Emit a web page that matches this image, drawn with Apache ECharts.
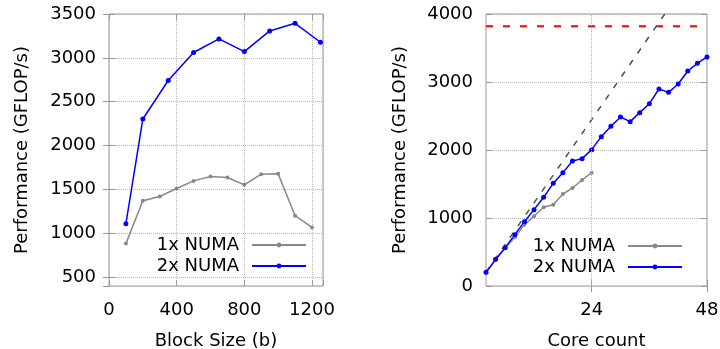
<!DOCTYPE html>
<html>
<head>
<meta charset="utf-8">
<script src="https://cdn.jsdelivr.net/npm/echarts@6/dist/echarts.min.js"></script>
<style>
html,body{margin:0;padding:0;background:#fff;}
#chart{width:720px;height:349px;}
</style>
</head>
<body>
<div id="chart"></div>
<script>
// left panel: block size sweep
var blockSizes1x = [100, 200, 300, 400, 500, 600, 700, 800, 900, 1000, 1100, 1200];
var blockPerf1x = [883, 1371, 1420, 1511, 1598, 1648, 1636, 1553, 1674, 1678, 1201, 1068];
var blockSizes2x = [100, 200, 350, 500, 650, 800, 950, 1100, 1250];
var blockPerf2x = [1110, 2303, 2742, 3061, 3216, 3072, 3307, 3394, 3178];

// right panel: core count sweep
var cores1x = [2, 4, 6, 8, 10, 12, 14, 16, 18, 20, 22, 24];
var corePerf1x = [201, 385, 559, 716, 902, 1025, 1157, 1196, 1353, 1441, 1559, 1667];
var cores2x = [2, 4, 6, 8, 10, 12, 14, 16, 18, 20, 22, 24, 26, 28, 30, 32, 34, 36, 38, 40, 42, 44, 46, 48];
var corePerf2x = [201, 392, 564, 755, 946, 1123, 1304, 1510, 1667, 1838, 1873, 2005, 2196, 2348, 2485, 2417, 2549, 2681, 2897, 2848, 2971, 3162, 3275, 3368];
var peakPerf = 3820;
var idealPerCore = 102;

var leftXTicks = [0, 400, 800, 1200];
var rightXTicks = [24, 48];
var rightXGrid = [24];

var FONT = 'DejaVu Sans';
var FS = 18;
var GRAY = '#888888';
var BLUE = '#0000ff';

function pairs(xs, ys) {
	return xs.map(function (x, i) { return [x, ys[i]]; });
}
function plain(v) { return String(v); }

var splitStyle = { show: true, lineStyle: { color: '#b4b4b4', type: 'dotted', width: 1 } };
var nameStyle = { color: '#000', fontFamily: FONT, fontSize: FS };
var tickStyle = { show: true, inside: true, length: 6, lineStyle: { color: '#999' } };

function mirror(pos, grid, min, max, extra) {
	var ax = {
		type: 'value', gridIndex: grid, position: pos, min: min, max: max,
		axisLine: { show: false }, axisLabel: { show: false },
		axisTick: tickStyle, splitLine: { show: false }
	};
	for (var k in extra) ax[k] = extra[k];
	return ax;
}

var legendText = { color: '#000', fontFamily: FONT, fontSize: FS, padding: [0, 8, 0, 0] };

var chart = echarts.init(document.getElementById('chart'));
var option = {
	animation: false,
	grid: [
		{ left: 109, right: 397, top: 14, bottom: 63, outerBoundsMode: 'none', show: true, borderColor: '#999', borderWidth: 1 },
		{ left: 486, right: 13, top: 14, bottom: 63, outerBoundsMode: 'none', show: true, borderColor: '#999', borderWidth: 1 }
	],
	legend: [
		{
			data: ['1x NUMA', '2x NUMA'], orient: 'vertical', align: 'right',
			right: 408, top: 231, itemWidth: 54, itemHeight: 6, itemGap: 3,
			textStyle: legendText
		},
		{
			data: ['1x NUMA', '2x NUMA'], orient: 'vertical', align: 'right',
			right: 32, top: 232, itemWidth: 54, itemHeight: 6, itemGap: 3,
			textStyle: legendText
		}
	],
	xAxis: [
		{
			type: 'value', gridIndex: 0, min: 0, max: 1265, interval: 400,
			name: 'Block Size (b)', nameLocation: 'middle', nameGap: 46, nameTextStyle: nameStyle,
			axisLine: { show: false }, axisTick: tickStyle,
			axisLabel: { color: '#000', fontFamily: FONT, fontSize: FS, margin: 15, customValues: leftXTicks, formatter: plain },
			splitLine: splitStyle
		},
		mirror('top', 0, 0, 1265, { interval: 400 }),
		{
			type: 'value', gridIndex: 1, min: 2, max: 48,
			name: 'Core count', nameLocation: 'middle', nameGap: 46, nameTextStyle: nameStyle,
			axisLine: { show: false },
			axisTick: { show: true, inside: true, length: 6, lineStyle: { color: '#999' }, customValues: rightXTicks },
			axisLabel: { color: '#000', fontFamily: FONT, fontSize: FS, margin: 15, customValues: rightXTicks },
			splitLine: { show: false }
		},
		mirror('top', 1, 2, 48, { axisTick: { show: true, inside: true, length: 6, lineStyle: { color: '#999' }, customValues: rightXTicks } })
	],
	yAxis: [
		{
			type: 'value', gridIndex: 0, min: 400, max: 3500, splitNumber: 6,
			name: 'Performance (GFLOP/s)', nameLocation: 'middle', nameGap: 78, nameTextStyle: nameStyle,
			axisLine: { show: false }, axisTick: tickStyle,
			axisLabel: { color: '#000', fontFamily: FONT, fontSize: FS, margin: 13, showMinLabel: false, formatter: plain },
			splitLine: splitStyle
		},
		mirror('right', 0, 400, 3500, { splitNumber: 6 }),
		{
			type: 'value', gridIndex: 1, min: 0, max: 4000, interval: 1000,
			name: 'Performance (GFLOP/s)', nameLocation: 'middle', nameGap: 77, nameTextStyle: nameStyle,
			axisLine: { show: false }, axisTick: tickStyle,
			axisLabel: { color: '#000', fontFamily: FONT, fontSize: FS, margin: 13, formatter: plain },
			splitLine: splitStyle
		},
		mirror('right', 1, 0, 4000, { interval: 1000 })
	],
	series: [
		{
			name: '1x NUMA', type: 'line', xAxisIndex: 0, yAxisIndex: 0,
			data: pairs(blockSizes1x, blockPerf1x),
			symbol: 'circle', symbolSize: 4, color: GRAY,
			lineStyle: { color: GRAY, width: 1.5 }, itemStyle: { color: GRAY }
		},
		{
			name: '2x NUMA', type: 'line', xAxisIndex: 0, yAxisIndex: 0,
			data: pairs(blockSizes2x, blockPerf2x),
			symbol: 'circle', symbolSize: 5, color: BLUE,
			lineStyle: { color: BLUE, width: 1.5 }, itemStyle: { color: BLUE }
		},
		{
			name: 'peak', type: 'line', xAxisIndex: 2, yAxisIndex: 2,
			data: [[2, peakPerf], [48, peakPerf]], symbol: 'none', silent: true,
			lineStyle: { color: '#ff0000', width: 2, type: [7, 10] },
			markLine: {
				silent: true, symbol: 'none', label: { show: false },
				lineStyle: { color: '#b4b4b4', type: 'dotted', width: 1 },
				data: rightXGrid.map(function (v) { return { xAxis: v }; })
			}
		},
		{
			name: 'ideal', type: 'line', xAxisIndex: 2, yAxisIndex: 2,
			data: [[2, 2 * idealPerCore], [48, 48 * idealPerCore]], symbol: 'none', silent: true,
			lineStyle: { color: '#505050', width: 1.5, type: [6, 8] }
		},
		{
			name: '1x NUMA', type: 'line', xAxisIndex: 2, yAxisIndex: 2,
			data: pairs(cores1x, corePerf1x),
			symbol: 'circle', symbolSize: 4, color: GRAY,
			lineStyle: { color: GRAY, width: 1.5 }, itemStyle: { color: GRAY }
		},
		{
			name: '2x NUMA', type: 'line', xAxisIndex: 2, yAxisIndex: 2,
			data: pairs(cores2x, corePerf2x),
			symbol: 'circle', symbolSize: 5, color: BLUE,
			lineStyle: { color: BLUE, width: 1.5 }, itemStyle: { color: BLUE }
		}
	]
};
chart.setOption(option);
</script>
</body>
</html>
